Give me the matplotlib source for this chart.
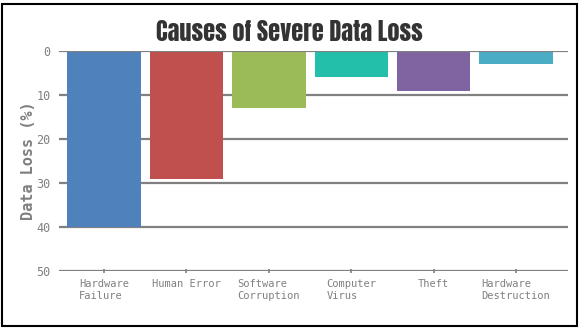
import matplotlib
matplotlib.use("Agg")
import matplotlib.pyplot as plt
from matplotlib.patches import Rectangle

# ========= Data =========
causes = ["Hardware\nFailure", "Human Error", "Software\nCorruption",
          "Computer\nVirus", "Theft", "Hardware\nDestruction"]
data_loss = [40, 29, 13, 6, 9, 3]
bar_colors = ["#4F81BC", "#C0504E", "#9BBB58", "#23BFAA", "#8064A1", "#4AACC5"]
y_ticks = [0, 10, 20, 30, 40, 50]

MONO = ["DejaVu Sans Mono"]

# ========= Plot =========
fig = plt.figure(figsize=(5.8, 3.3), dpi=100)
ax = fig.add_axes([59 / 580, 1 - 271 / 330, (568 - 59) / 580, (271 - 51) / 330])

positions = list(range(len(causes)))
ax.bar(positions, data_loss, width=0.89, color=bar_colors, zorder=1)

ax.set_ylim(50, 0)
ax.set_xlim(-0.546, 5.63)
ax.set_yticks(y_ticks)
ax.set_xticks(positions)
ax.set_xticklabels(causes, family=MONO, fontsize=7.5, color="#808080",
                   multialignment="left", va="top", linespacing=1.35)
for lbl in ax.get_yticklabels():
    lbl.set_family(MONO)
    lbl.set_fontsize(8.5)
    lbl.set_color("#808080")

for y in y_ticks:
    ax.axhline(y, color="#808080", linewidth=1.6, zorder=0 if y not in (0, 50) else 2)

ax.tick_params(axis="y", length=0, pad=6)
ax.tick_params(axis="x", length=3, width=1.2, color="#808080", pad=4, direction="inout")
for side in ["top", "right", "left", "bottom"]:
    ax.spines[side].set_visible(False)
ax.set_facecolor("none")

ax.set_ylabel("Data Loss (%)", family=MONO, fontweight="bold",
              fontsize=11, color="#808080", labelpad=0)

fig.text(289 / 580, 1 - 32 / 330, "Causes of Severe Data Loss", ha="center", va="center",
         fontsize=17.5, family=["Anton", "DejaVu Sans"], color="#333333")

# border around the chart
fig.patches.append(Rectangle((2 / 580, 4 / 330), 575 / 580, 322 / 330, transform=fig.transFigure,
                             fill=False, edgecolor="black", linewidth=1.5))

fig.savefig("out.png", dpi=100)
